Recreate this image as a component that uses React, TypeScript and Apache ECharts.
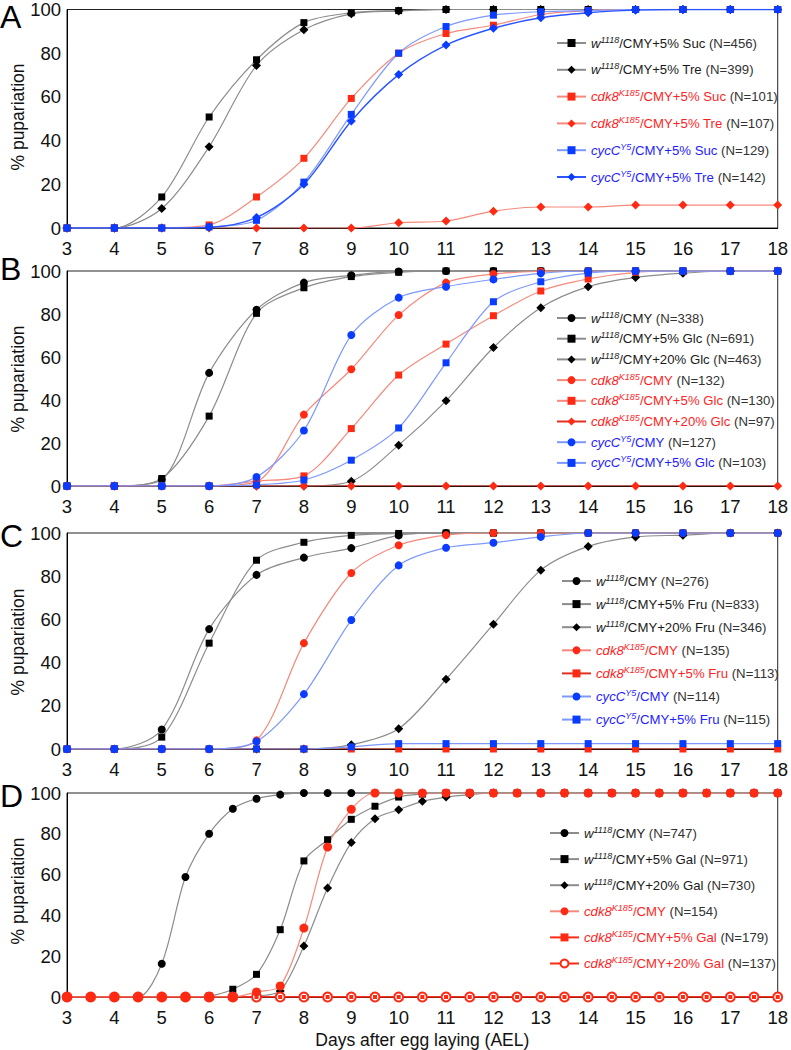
import React, { useEffect, useRef } from "react";
import * as echarts from "echarts";

// ---------- data ----------
const DAYS = [3, 4, 5, 6, 7, 8, 9, 10, 11, 12, 13, 14, 15, 16, 17, 18];
const DAYS_HALF = [3, 3.5, 4, 4.5, 5, 5.5, 6, 6.5, 7, 7.5, 8, 8.5, 9, 9.5, 10, 10.5, 11, 11.5, 12, 12.5, 13, 13.5, 14, 14.5, 15, 15.5, 16, 16.5, 17, 17.5, 18];
const X_TICKS = [3, 18, 1];
const Y_TICKS = [0, 100, 20];

// Panel A
const A_W_SUC = [0, 0, 14.2, 50.8, 77.0, 94.0, 98.5, 99.5, 100, 100, 100, 100, 100, 100, 100, 100];
const A_W_TRE = [0, 0, 8.9, 37.2, 74.4, 90.7, 98.0, 99.3, 100, 100, 100, 100, 100, 100, 100, 100];
const A_CDK_SUC = [0, 0, 0, 1.4, 14.2, 31.9, 59.3, 80.0, 89.0, 92.8, 97.7, 99.5, 100, 100, 100, 100];
const A_CDK_TRE = [0, 0, 0, 0, 0, 0, 0, 2.4, 3.2, 7.7, 9.6, 9.6, 10.5, 10.5, 10.5, 10.5];
const A_CYC_SUC = [0, 0, 0, 0.5, 3.5, 21.0, 52.0, 80.0, 92.2, 97.4, 99.0, 99.5, 100, 100, 100, 100];
const A_CYC_TRE = [0, 0, 0, 0.3, 4.8, 20.0, 49.0, 70.2, 83.7, 91.4, 96.2, 98.5, 99.7, 100, 100, 100];

// Panel B
const B_W_CMY = [0, 0, 3.0, 52.6, 82.0, 94.6, 98.0, 99.8, 100, 100, 100, 100, 100, 100, 100, 100];
const B_W_5 = [0, 0, 3.5, 32.5, 80.3, 92.2, 97.4, 99.4, 100, 100, 100, 100, 100, 100, 100, 100];
const B_W_20 = [0, 0, 0, 0, 0, 0, 2.2, 19.0, 39.6, 64.4, 82.9, 92.7, 97.0, 99.0, 100, 100];
const B_CDK_CMY = [0, 0, 0, 0, 2.0, 33.2, 54.3, 79.5, 94.6, 98.6, 99.8, 100, 100, 100, 100, 100];
const B_CDK_5 = [0, 0, 0, 0, 2.3, 4.7, 26.7, 51.6, 66.0, 79.2, 90.7, 96.3, 99.4, 100, 100, 100];
const B_CDK_20 = [0, 0, 0, 0, 0, 0, 0, 0, 0, 0, 0, 0, 0, 0, 0, 0];
const B_CYC_CMY = [0, 0, 0, 0, 4.2, 25.8, 70.2, 87.6, 92.7, 96.1, 98.9, 100, 100, 100, 100, 100];
const B_CYC_5 = [0, 0, 0, 0, 0.5, 2.8, 12.0, 27.0, 57.3, 85.7, 95.0, 99.0, 100, 100, 100, 100];

// Panel C
const C_W_CMY = [0, 0, 9.0, 55.5, 80.6, 88.6, 93.0, 98.9, 100, 100, 100, 100, 100, 100, 100, 100];
const C_W_5 = [0, 0, 5.5, 49.0, 87.4, 95.7, 98.9, 99.8, 100, 100, 100, 100, 100, 100, 100, 100];
const C_W_20 = [0, 0, 0, 0, 0, 0, 2.0, 9.4, 32.3, 57.8, 82.8, 93.8, 98.2, 99.0, 100, 100];
const C_CDK_CMY = [0, 0, 0, 0, 4.0, 49.0, 81.5, 94.3, 99.0, 100, 100, 100, 100, 100, 100, 100];
const C_CDK_5 = [0, 0, 0, 0, 0, 0, 0, 0, 0, 0, 0, 0, 0, 0, 0, 0];
const C_CYC_CMY = [0, 0, 0, 0, 3.5, 25.4, 59.7, 85.0, 93.2, 95.5, 98.2, 100, 100, 100, 100, 100];
const C_CYC_5 = [0, 0, 0, 0, 0, 0, 1.0, 2.5, 2.5, 2.5, 2.5, 2.5, 2.5, 2.5, 2.5, 2.5];

// Panel D (half-day steps)
const D_W_CMY = [0, 0, 0, 0, 16.3, 58.8, 80.0, 92.3, 97.2, 99.2, 100, 100, 100, 100, 100, 100, 100, 100, 100, 100, 100, 100, 100, 100, 100, 100, 100, 100, 100, 100, 100];
const D_W_5 = [0, 0, 0, 0, 0, 0, 0.5, 3.8, 11.1, 33.0, 66.7, 77.1, 87.1, 93.5, 98.0, 99.5, 100, 100, 100, 100, 100, 100, 100, 100, 100, 100, 100, 100, 100, 100, 100];
const D_W_20 = [0, 0, 0, 0, 0, 0, 0, 0, 0.5, 3.0, 25.0, 53.4, 75.7, 87.4, 91.8, 95.9, 98.0, 99.2, 100, 100, 100, 100, 100, 100, 100, 100, 100, 100, 100, 100, 100];
const D_CDK_CMY = [0, 0, 0, 0, 0, 0, 0, 0, 2.5, 5.4, 33.8, 73.5, 92.0, 100, 100, 100, 100, 100, 100, 100, 100, 100, 100, 100, 100, 100, 100, 100, 100, 100, 100];
const D_CDK_5 = [0, 0, 0, 0, 0, 0, 0, 0, 0, 0, 0, 0, 0, 0, 0, 0, 0, 0, 0, 0, 0, 0, 0, 0, 0, 0, 0, 0, 0, 0, 0];
const D_CDK_20 = [0, 0, 0, 0, 0, 0, 0, 0, 0, 0, 0, 0, 0, 0, 0, 0, 0, 0, 0, 0, 0, 0, 0, 0, 0, 0, 0, 0, 0, 0, 0];

const PANEL_LETTERS = ["A", "B", "C", "D"];
const Y_TITLE = "% pupariation";
const X_TITLE = "Days after egg laying (AEL)";

// ---------- styling ----------
const FONT = '"Liberation Sans", Arial, Helvetica, sans-serif';
const COLORS: Record<string, { m: string; l: string; t: string }> = {
  k: { m: "#000000", l: "#8c8c8c", t: "#1a1a1a" },
  r: { m: "#ff2a14", l: "#f58a7c", t: "#ff1f1f" },
  b: { m: "#0a3cff", l: "#7d98ff", t: "#1f22ff" },
};

type Spec = {
  p: number;
  g: string;
  s: string;
  t: string;
  n: string;
  c: "k" | "r" | "b";
  days: number[];
  vals: number[];
  sym: string;
  size: number;
  lineColor?: string;
  lineWidth?: number;
  border?: number;
};

const SQ = 7;
const DI = 9;
const CI = 8;

const SPECS: Spec[] = [
  { p: 0, g: "w", s: "1118", t: "/CMY+5% Suc", n: "N=456", c: "k", days: DAYS, vals: A_W_SUC, sym: "rect", size: SQ },
  { p: 0, g: "w", s: "1118", t: "/CMY+5% Tre", n: "N=399", c: "k", days: DAYS, vals: A_W_TRE, sym: "diamond", size: DI },
  { p: 0, g: "cdk8", s: "K185", t: "/CMY+5% Suc", n: "N=101", c: "r", days: DAYS, vals: A_CDK_SUC, sym: "rect", size: SQ },
  { p: 0, g: "cdk8", s: "K185", t: "/CMY+5% Tre", n: "N=107", c: "r", days: DAYS, vals: A_CDK_TRE, sym: "diamond", size: DI },
  { p: 0, g: "cycC", s: "Y5", t: "/CMY+5% Suc", n: "N=129", c: "b", days: DAYS, vals: A_CYC_SUC, sym: "rect", size: SQ },
  { p: 0, g: "cycC", s: "Y5", t: "/CMY+5% Tre", n: "N=142", c: "b", days: DAYS, vals: A_CYC_TRE, sym: "diamond", size: DI, lineColor: "#2a55ff", lineWidth: 1.4 },

  { p: 1, g: "w", s: "1118", t: "/CMY", n: "N=338", c: "k", days: DAYS, vals: B_W_CMY, sym: "circle", size: CI },
  { p: 1, g: "w", s: "1118", t: "/CMY+5% Glc", n: "N=691", c: "k", days: DAYS, vals: B_W_5, sym: "rect", size: SQ },
  { p: 1, g: "w", s: "1118", t: "/CMY+20% Glc", n: "N=463", c: "k", days: DAYS, vals: B_W_20, sym: "diamond", size: DI },
  { p: 1, g: "cdk8", s: "K185", t: "/CMY", n: "N=132", c: "r", days: DAYS, vals: B_CDK_CMY, sym: "circle", size: CI },
  { p: 1, g: "cdk8", s: "K185", t: "/CMY+5% Glc", n: "N=130", c: "r", days: DAYS, vals: B_CDK_5, sym: "rect", size: SQ },
  { p: 1, g: "cdk8", s: "K185", t: "/CMY+20% Glc", n: "N=97", c: "r", days: DAYS, vals: B_CDK_20, sym: "diamond", size: DI, lineColor: "#e0301e" },
  { p: 1, g: "cycC", s: "Y5", t: "/CMY", n: "N=127", c: "b", days: DAYS, vals: B_CYC_CMY, sym: "circle", size: CI },
  { p: 1, g: "cycC", s: "Y5", t: "/CMY+5% Glc", n: "N=103", c: "b", days: DAYS, vals: B_CYC_5, sym: "rect", size: SQ },

  { p: 2, g: "w", s: "1118", t: "/CMY", n: "N=276", c: "k", days: DAYS, vals: C_W_CMY, sym: "circle", size: CI },
  { p: 2, g: "w", s: "1118", t: "/CMY+5% Fru", n: "N=833", c: "k", days: DAYS, vals: C_W_5, sym: "rect", size: SQ },
  { p: 2, g: "w", s: "1118", t: "/CMY+20% Fru", n: "N=346", c: "k", days: DAYS, vals: C_W_20, sym: "diamond", size: DI },
  { p: 2, g: "cdk8", s: "K185", t: "/CMY", n: "N=135", c: "r", days: DAYS, vals: C_CDK_CMY, sym: "circle", size: CI },
  { p: 2, g: "cdk8", s: "K185", t: "/CMY+5% Fru", n: "N=113", c: "r", days: DAYS, vals: C_CDK_5, sym: "rect", size: SQ, lineColor: "#e0301e" },
  { p: 2, g: "cycC", s: "Y5", t: "/CMY", n: "N=114", c: "b", days: DAYS, vals: C_CYC_CMY, sym: "circle", size: CI },
  { p: 2, g: "cycC", s: "Y5", t: "/CMY+5% Fru", n: "N=115", c: "b", days: DAYS, vals: C_CYC_5, sym: "rect", size: SQ },

  { p: 3, g: "w", s: "1118", t: "/CMY", n: "N=747", c: "k", days: DAYS_HALF, vals: D_W_CMY, sym: "circle", size: CI },
  { p: 3, g: "w", s: "1118", t: "/CMY+5% Gal", n: "N=971", c: "k", days: DAYS_HALF, vals: D_W_5, sym: "rect", size: SQ },
  { p: 3, g: "w", s: "1118", t: "/CMY+20% Gal", n: "N=730", c: "k", days: DAYS_HALF, vals: D_W_20, sym: "diamond", size: DI },
  { p: 3, g: "cdk8", s: "K185", t: "/CMY+20% Gal", n: "N=137", c: "r", days: DAYS_HALF, vals: D_CDK_20, sym: "emptyCircle", size: 9, lineColor: "#ff2a14", lineWidth: 1.6, border: 1.4 },
  { p: 3, g: "cdk8", s: "K185", t: "/CMY+5% Gal", n: "N=179", c: "r", days: DAYS_HALF, vals: D_CDK_5, sym: "rect", size: 4, lineColor: "#ff2a14" },
  { p: 3, g: "cdk8", s: "K185", t: "/CMY", n: "N=154", c: "r", days: DAYS_HALF, vals: D_CDK_CMY, sym: "circle", size: 9 },
];

const LEGEND_ORDER: string[][] = [
  ["w/CMY+5% Suc", "w/CMY+5% Tre", "cdk8/CMY+5% Suc", "cdk8/CMY+5% Tre", "cycC/CMY+5% Suc", "cycC/CMY+5% Tre"],
  ["w/CMY", "w/CMY+5% Glc", "w/CMY+20% Glc", "cdk8/CMY", "cdk8/CMY+5% Glc", "cdk8/CMY+20% Glc", "cycC/CMY", "cycC/CMY+5% Glc"],
  ["w/CMY", "w/CMY+5% Fru", "w/CMY+20% Fru", "cdk8/CMY", "cdk8/CMY+5% Fru", "cycC/CMY", "cycC/CMY+5% Fru"],
  ["w/CMY", "w/CMY+5% Gal", "w/CMY+20% Gal", "cdk8/CMY", "cdk8/CMY+5% Gal", "cdk8/CMY+20% Gal"],
];

const nameOf = (s: Spec) => `${s.g}${s.s}${s.t} (${s.n})`;
const keyOf = (s: Spec) => `${s.g}${s.t}`;

export default function App() {
  const ref = useRef<HTMLDivElement>(null);

  useEffect(() => {
    if (!ref.current) return;
    const chart = echarts.init(ref.current, null, { renderer: "svg" });

    const GRIDS = [
      { left: 67, top: 7, width: 711, height: 221 },
      { left: 67, top: 271, width: 711, height: 215 },
      { left: 67, top: 533, width: 711, height: 216 },
      { left: 67, top: 793, width: 711, height: 204 },
    ];
    const LEG_POS = [
      { left: 556, top: 35, itemGap: 10.8 },
      { left: 556, top: 310, itemGap: 4.7 },
      { left: 561, top: 573, itemGap: 7.1 },
      { left: 549, top: 825, itemGap: 10.1 },
    ];
    const LETTER_Y = [16.5, 269, 536, 796];
    const TITLE_Y = [117, 379, 642, 891];
    const TXT = 13.2;

    const richMap: Record<string, string> = {};
    SPECS.forEach((s) => {
      richMap[nameOf(s)] = `{g${s.c}|${s.g}}{s${s.c}|${s.s}}{t${s.c}|${s.t}}{n| (${s.n})}`;
    });

    const rich: Record<string, any> = {
      n: { color: "#333333", fontSize: TXT, fontFamily: FONT },
    };
    (["k", "r", "b"] as const).forEach((c) => {
      rich["g" + c] = { color: COLORS[c].t, fontStyle: "italic", fontSize: TXT, fontFamily: FONT };
      rich["s" + c] = { color: COLORS[c].t, fontStyle: "italic", fontSize: 9, fontFamily: FONT, verticalAlign: "top", lineHeight: 9 };
      rich["t" + c] = { color: COLORS[c].t, fontSize: TXT, fontFamily: FONT };
    });

    const series = SPECS.map((s) => ({
      type: "line",
      name: nameOf(s),
      xAxisIndex: s.p,
      yAxisIndex: s.p,
      data: s.days.map((d, i) => [d, s.vals[i]]),
      smooth: 0.3,
      symbol: s.sym,
      symbolSize: s.size,
      showAllSymbol: true,
      lineStyle: { color: s.lineColor || COLORS[s.c].l, width: s.lineWidth || 1.2 },
      itemStyle: { color: COLORS[s.c].m, borderWidth: s.border || 0, borderColor: COLORS[s.c].m },
      emphasis: { disabled: true },
      silent: true,
    }));

    const legends = LEGEND_ORDER.map((keys, p) => ({
      ...LEG_POS[p],
      orient: "vertical",
      padding: 0,
      itemWidth: 29,
      itemHeight: 10,
      selectedMode: false,
      data: keys.map((k) => nameOf(SPECS.find((s) => s.p === p && keyOf(s) === k)!)),
      formatter: (name: string) => richMap[name] || name,
      textStyle: { fontFamily: FONT, fontSize: TXT, lineHeight: 16, color: "#222", rich },
    }));

    const graphic: any[] = [];
    PANEL_LETTERS.forEach((L, p) => {
      graphic.push({
        type: "text",
        x: 0,
        y: LETTER_Y[p],
        style: { text: L, fontSize: 32, fontFamily: FONT, fill: "#000", align: "left", verticalAlign: "middle" },
      });
      graphic.push({
        type: "text",
        x: 18,
        y: TITLE_Y[p],
        rotation: Math.PI / 2,
        style: { text: Y_TITLE, fontSize: 17.5, fontFamily: FONT, fill: "#111", align: "center", verticalAlign: "middle" },
      });
    });

    chart.setOption({
      animation: false,
      backgroundColor: "#ffffff",
      grid: GRIDS.map((g) => ({ ...g, show: true, borderColor: "#222", borderWidth: 1, backgroundColor: "transparent" })),
      xAxis: GRIDS.map((_, p) => ({
        type: "value",
        gridIndex: p,
        min: X_TICKS[0],
        max: X_TICKS[1],
        interval: X_TICKS[2],
        axisLine: { show: true, onZero: false, lineStyle: { color: "#000", width: 1 } },
        axisTick: { show: false },
        splitLine: { show: false },
        axisLabel: { fontSize: 18.5, color: "#111", fontFamily: FONT, margin: 11 },
        name: p === 3 ? X_TITLE : "",
        nameLocation: "middle",
        nameGap: 34,
        nameTextStyle: { fontSize: 17.5, color: "#111", fontFamily: FONT },
      })),
      yAxis: GRIDS.map((_, p) => ({
        type: "value",
        gridIndex: p,
        min: Y_TICKS[0],
        max: Y_TICKS[1],
        interval: Y_TICKS[2],
        axisLine: { show: true, lineStyle: { color: "#000", width: 1 } },
        axisTick: { show: false },
        splitLine: { show: false },
        axisLabel: { fontSize: 18.5, color: "#111", fontFamily: FONT, margin: 6 },
      })),
      legend: legends,
      series,
      graphic,
    });

    return () => chart.dispose();
  }, []);

  return (
    <div
      ref={ref}
      style={{ position: "absolute", left: 0, top: 0, width: 791, height: 1050, background: "#fff" }}
    />
  );
}
